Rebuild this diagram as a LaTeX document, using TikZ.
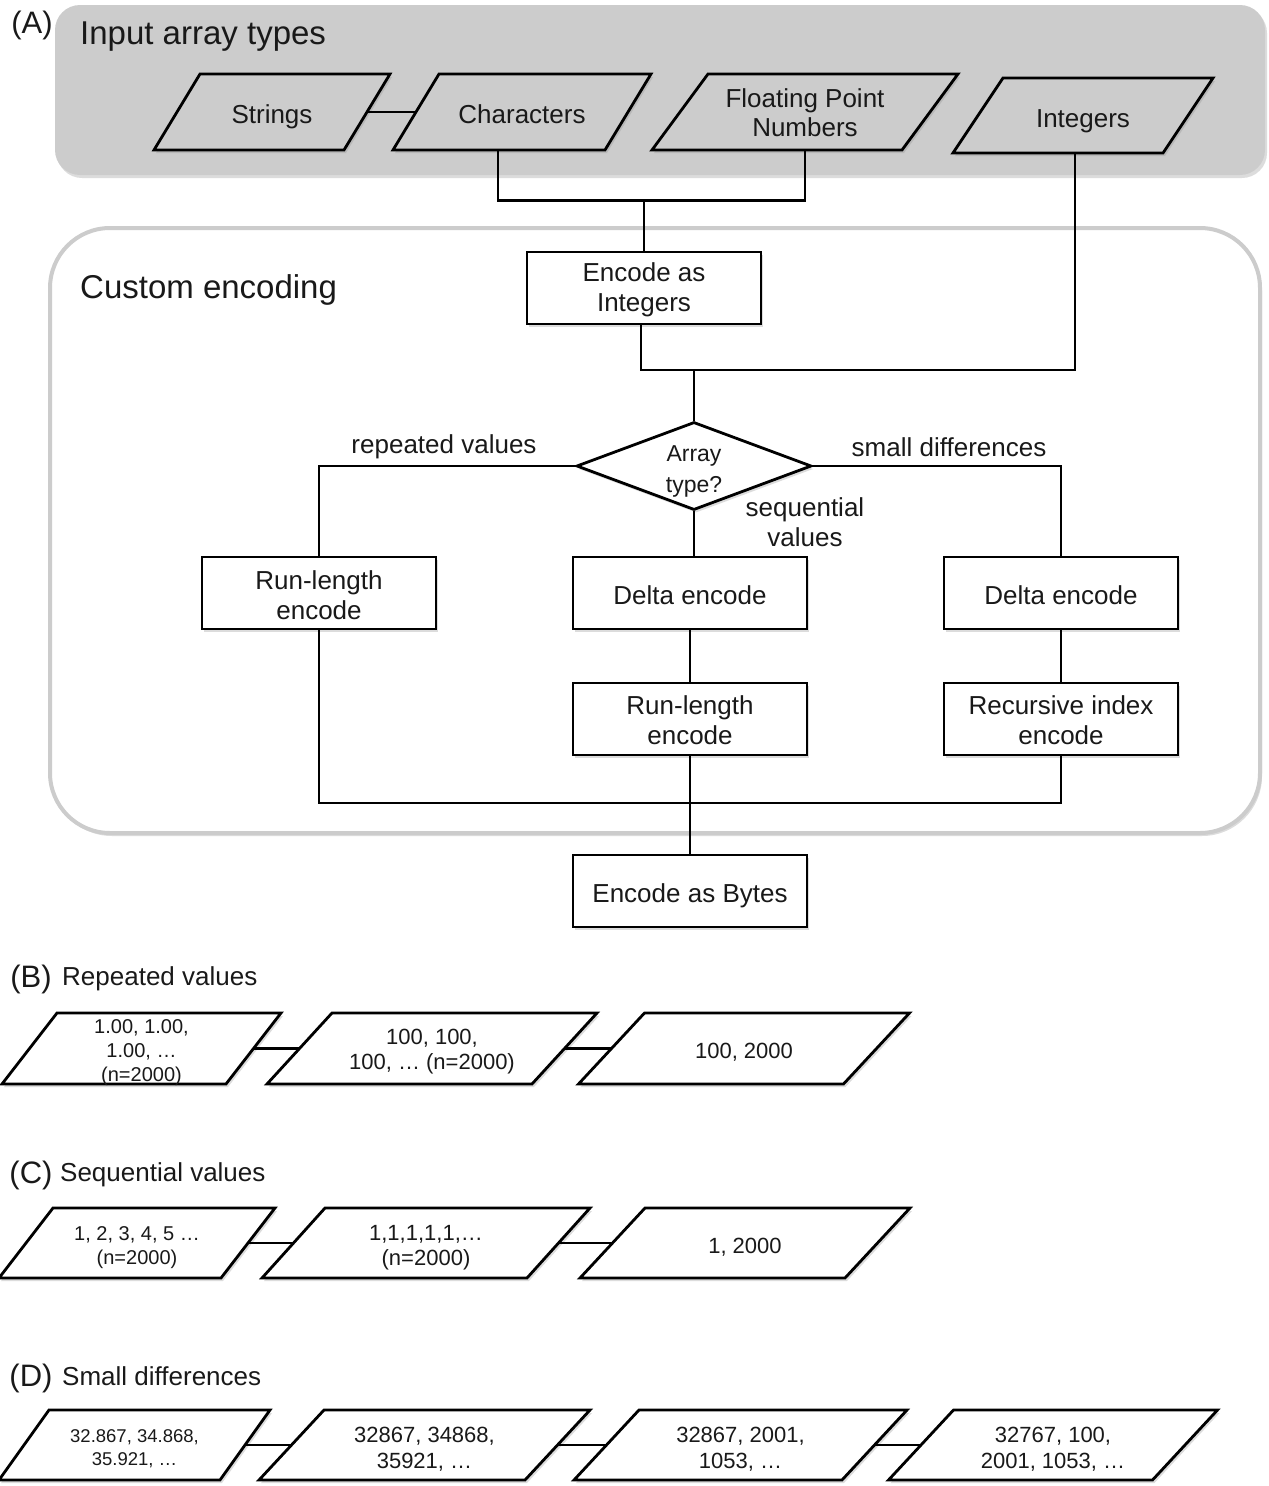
\documentclass[tikz,border=0pt]{standalone}
\usepackage{fontspec}
\setmainfont{Liberation Sans}
\usetikzlibrary{shapes.geometric,shadows,calc}
\newcommand{\fs}[2]{\fontsize{#1}{#2}\selectfont}
\definecolor{panelgray}{RGB}{204,204,204}
\tikzset{
  sh/.style={drop shadow={shadow xshift=2pt, shadow yshift=-3pt, opacity=0.3, fill=black!45}},
  ln/.style={line width=2.8pt},
  pshape/.style={line width=2.8pt, line join=miter, sh},
  anch/.style={inner sep=0pt},
  ptext/.style={align=center, inner sep=0pt, text=black!90},
  procbox/.style={draw, line width=2.8pt, fill=white, minimum width=234pt, minimum height=72pt,
    inner sep=0pt, sh},
  boxtext/.style={align=center, inner sep=0pt, font=\fs{26}{30}, text=black!90},
  lbl/.style={align=center, inner sep=0pt, font=\fs{26}{30}, text=black!90},
  ttl/.style={anchor=west, inner sep=0pt, font=\fs{33}{38}, text=black!90},
  plab/.style={inner sep=0pt, font=\fs{31}{36}, text=black!90},
  subttl/.style={anchor=west, inner sep=0pt, font=\fs{26}{30}, text=black!90},
}
% name, cx, cy, midwidth, height, slant, fill, text-node options, text
\newcommand{\pgram}[9]{%
  \draw[pshape, fill=#7] ({#2-#4/2-#6/2},{#3+#5/2}) -- ({#2-#4/2+#6/2},{#3-#5/2})
    -- ({#2+#4/2+#6/2},{#3-#5/2}) -- ({#2+#4/2-#6/2},{#3+#5/2}) -- cycle;
  \node[anch, minimum width=#4pt, minimum height=#5pt] (#1) at (#2,#3) {};
  \node[ptext, #8] (#1-t) at (#2,#3) {#9};}
% name, cx, cy, text shift down, text
\newcommand{\pbox}[5]{%
  \node[procbox] (#1) at (#2,#3) {};
  \node[boxtext] (#1-t) at (#2,{#3+#4}) {#5};}
\begin{document}
\begin{tikzpicture}[x=1pt,y=-1pt]
\useasboundingbox (0,0) rectangle (1269,1486);

% ---------- Panel A ----------
\fill[panelgray, rounded corners=25pt, sh] (55,5) rectangle (1265,175);
\draw[draw=black!20, fill=white, line width=4pt, rounded corners=60pt, sh] (50,228) rectangle (1260,833);

\node[plab] (lA) at (32,25) {(A)};
\node[ttl] (tA) at (80,37) {Input array types};
\node[ttl] (tCust) at (80,290) {Custom encoding};

\pgram{str}{272}{112}{190}{76}{46}{panelgray}{font=\fs{26}{29}, yshift=-5pt}{Strings}
\pgram{chr}{522}{112}{212}{76}{46}{panelgray}{font=\fs{26}{29}, yshift=-2pt}{Characters}
\pgram{flt}{805}{112}{250}{76}{56}{panelgray}{font=\fs{26}{29}, yshift=-1pt}{Floating Point\\Numbers}
\pgram{int}{1083}{115.5}{210}{75}{50}{panelgray}{font=\fs{26}{29}, yshift=-6pt}{Integers}

\draw[ln] (str.east) -- (chr.west);

\pbox{enc}{644}{288}{2}{Encode as\\Integers}
\coordinate (j1) at (644,200);
\draw[ln] ([xshift=-24pt]chr.south) -- ++(0,50) -| (flt.south);
\draw[ln] (j1) -- (enc.north);

\node[draw, line width=2.8pt, fill=white, shape=diamond, minimum width=235pt,
  minimum height=88pt, inner sep=0pt, sh] (arr) at (694,466) {};
\node[ptext, font=\fs{23}{31}] (arr-t) at (694,471) {Array\\type?};

\coordinate (j2) at (641,370);
\draw[ln] ([xshift=-8pt]int.south) |- (j2) -- (j2 |- enc.south);
\draw[ln] (arr.north) -- (arr.north |- j2);

\pbox{rl1}{319}{593}{2.5}{Run-length\\encode}
\pbox{d1}{690}{593}{2}{Delta encode}
\pbox{d2}{1061}{593}{2}{Delta encode}
\pbox{rl2}{690}{719}{1.5}{Run-length\\encode}
\pbox{rie}{1061}{719}{1}{Recursive index\\encode}
\pbox{byt}{690}{891}{5}{Encode as Bytes}

\draw[ln] (arr.west) -| (rl1.north);
\draw[ln] (arr.east) -| (d2.north);
\draw[ln] (arr.south) -- (arr.south |- d1.north);
\node[lbl] (lrep) at (444,447) {repeated values};
\node[lbl] (lsmall) at (949,447) {small differences};
\node[lbl] (lseq) at (805,522) {sequential\\values};

\draw[ln] (d1) -- (rl2);
\draw[ln] (d2) -- (rie);
\coordinate (j3) at (690,803);
\draw[ln] (rl1.south) |- (j3) -| (rie.south);
\draw[ln] (rl2.south) -- (byt.north);

% ---------- Panel B ----------
\node[plab] (lB) at (31,979) {(B)};
\node[subttl] (tB) at (62,979) {Repeated values};
\pgram{b1}{141.5}{1048.5}{224}{71}{55}{white}{font=\fs{20}{24}, yshift=-4pt}{1.00, 1.00,\\1.00, \dots\\(n=2000)}
\pgram{b2}{432}{1048.5}{265}{71}{65}{white}{font=\fs{22}{25}, yshift=-3.5pt}{100, 100,\\100, \dots\ (n=2000)}
\pgram{b3}{744}{1048.5}{265}{71}{66}{white}{font=\fs{22}{25}, yshift=-4pt}{100, 2000}
\draw[ln] (b1.east) -- (b2.west);
\draw[ln] (b2.east) -- (b3.west);

% ---------- Panel C ----------
\node[plab] (lC) at (31,1175) {(C)};
\node[subttl] (tC) at (60,1175) {Sequential values};
\pgram{c1}{137}{1243}{222}{70}{54}{white}{font=\fs{20}{24}, yshift=-5pt}{1, 2, 3, 4, 5 \dots\\(n=2000)}
\pgram{c2}{426}{1243}{265}{70}{63}{white}{font=\fs{22}{25}, yshift=-4.5pt}{1,1,1,1,1,\dots\\(n=2000)}
\pgram{c3}{745}{1243}{265}{70}{65}{white}{font=\fs{22}{25}, yshift=-4pt}{1, 2000}
\draw[ln] (c1.east) -- (c2.west);
\draw[ln] (c2.east) -- (c3.west);

% ---------- Panel D ----------
\node[plab] (lD) at (31,1378) {(D)};
\node[subttl] (tD) at (62,1376) {Small differences};
\pgram{e1}{134.5}{1445}{221}{70}{50}{white}{font=\fs{18.5}{23}, yshift=-4pt}{32.867, 34.868,\\35.921, \dots}
\pgram{e2}{424.5}{1445}{266}{70}{65}{white}{font=\fs{22}{26}, yshift=-4.5pt}{32867, 34868,\\35921, \dots}
\pgram{e3}{740.5}{1445}{268}{70}{65}{white}{font=\fs{22}{26}, yshift=-4pt}{32867, 2001,\\1053, \dots}
\pgram{e4}{1053}{1445}{264}{70}{65}{white}{font=\fs{22}{26}, yshift=-4pt}{32767, 100,\\2001, 1053, \dots}
\draw[ln] (e1.east) -- (e2.west);
\draw[ln] (e2.east) -- (e3.west);
\draw[ln] (e3.east) -- (e4.west);
\end{tikzpicture}
\end{document}
